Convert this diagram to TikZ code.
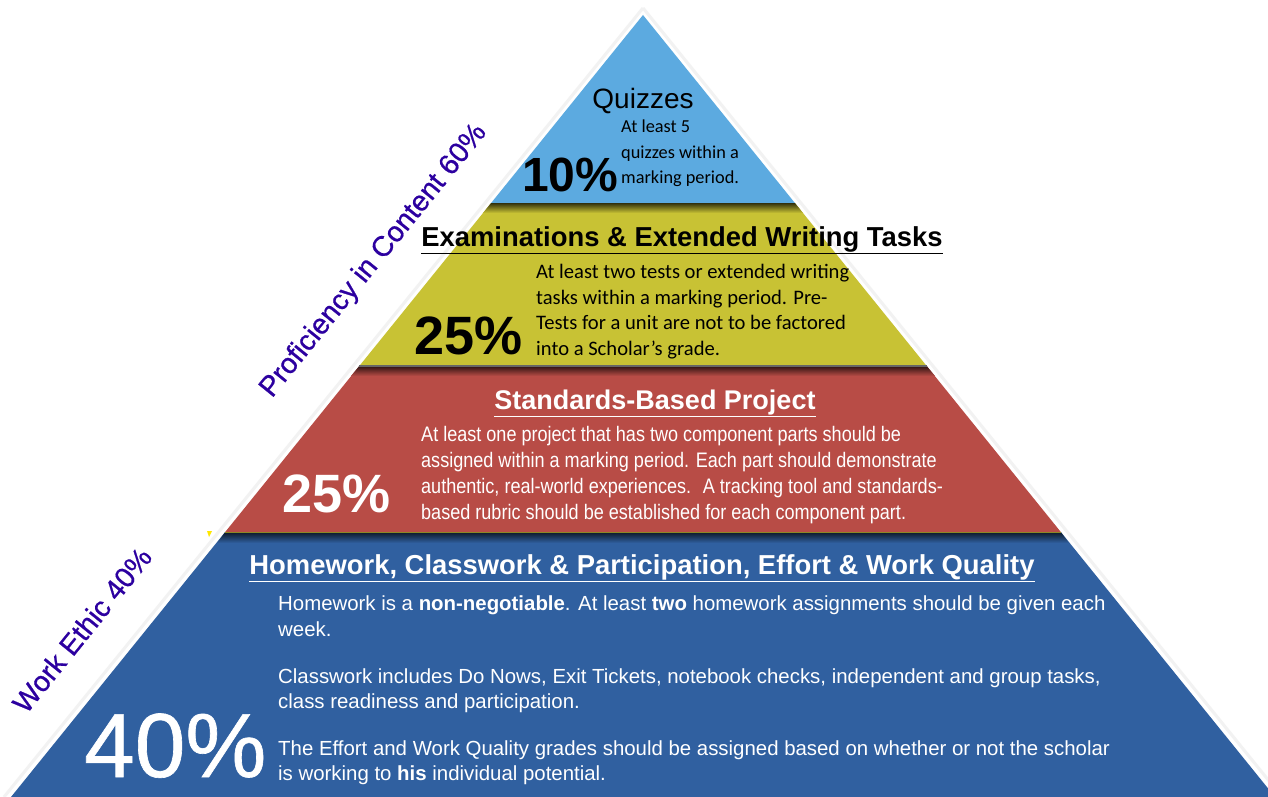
\documentclass[tikz,border=0pt]{standalone}
\usepackage{fontspec}
\setmainfont{Liberation Sans}
\newfontfamily\calfont{Carlito}
\newfontfamily\narrowfont[FakeStretch=0.86]{Liberation Sans}
\newfontfamily\medfont[FakeBold=0.7]{Liberation Sans}
\definecolor{topblue}{RGB}{92,170,224}
\definecolor{yel}{RGB}{200,194,52}
\definecolor{redb}{RGB}{184,76,70}
\definecolor{botblue}{RGB}{48,96,160}
\definecolor{vio}{RGB}{44,0,160}
\tikzset{
  head/.style={font=\bfseries\fontsize{#1}{#1}\selectfont, inner sep=0pt},
  pct/.style={font=\bfseries\fontsize{#1}{#1}\selectfont, inner sep=0pt},
  body/.style={align=left, inner sep=0pt},
  side/.style={text=vio, font=\medfont\fontsize{#1}{#1}\selectfont, rotate=51, inner sep=0pt},
}
\begin{document}
\begin{tikzpicture}[x=1pt,y=-1pt]
\useasboundingbox (0,0) rectangle (1268,797);
\fill[white] (0,0) rectangle (1268,797);
\begin{scope}
\clip (0,0) rectangle (1268,797);
% faint outline shadow
\draw[black!5, line width=3pt] (643,8) -- (4,797);
\draw[black!5, line width=3pt] (643,8) -- (1282,797);
% bands
\fill[topblue] (643,15) -- (794.9,203) -- (491.1,203) -- cycle;
\fill[yel] (491.1,203) -- (794.9,203) -- (926.7,366) -- (359.3,366) -- cycle;
\fill[redb] (359.3,366) -- (926.7,366) -- (1060.8,532) -- (225.2,532) -- cycle;
\fill[botblue] (225.2,532) -- (1060.8,532) -- (1275,797) -- (11,797) -- cycle;
% shadows at band tops
\shade[top color=black!75!yel, bottom color=yel] (491.1,203) -- (794.9,203) -- (803,213) -- (483,213) -- cycle;
\shade[top color=black!75!redb, bottom color=redb] (359.3,366) -- (926.7,366) -- (935,376) -- (351,376) -- cycle;
\shade[top color=black!75!botblue, bottom color=botblue] (225.2,532) -- (1060.8,532) -- (1069,543) -- (217,543) -- cycle;
\draw[black!60, line width=1.2pt] (359.3,366) -- (926.7,366);
\draw[yel!70!black, line width=1pt] (225.2,532) -- (1060.8,532);
\end{scope}
% small yellow mark
\fill[yellow!90!orange] (207,531) -- (212,531) -- (209,537) -- cycle;

% ---- top band ----
\node[font=\fontsize{28}{28}\selectfont, anchor=base, inner sep=0pt] (quiz) at (643,109) {Quizzes};
\node[body, font=\calfont\fontsize{18.3}{25.5}\selectfont, anchor=north west] (quizbody) at (621,120) {At least 5\\quizzes within a\\marking period.};
\node[pct=48, anchor=base west] (p10) at (522,191) {10\%};

% ---- yellow band ----
\node[head=27.4, anchor=base, text=black] (exam) at (682,246) {\underline{Examinations \& Extended Writing Tasks}};
\node[body, font=\calfont\fontsize{20.6}{25.6}\selectfont, anchor=north west] (exambody) at (536,264) {At least two tests or extended writing\\tasks within a marking period. Pre-\\Tests for a unit are not to be factored\\into a Scholar’s grade.};
\node[pct=54, anchor=base west] (p25a) at (414,354) {25\%};

% ---- red band ----
\node[head=27, anchor=base, text=white] (proj) at (655,409) {\underline{Standards-Based Project}};
\node[body, text=white, font=\narrowfont\fontsize{21}{25.9}\selectfont, anchor=north west] (projbody) at (421,426) {At least one project that has two component parts should be\\assigned within a marking period. Each part should demonstrate\\authentic, real-world experiences.~ A tracking tool and standards-\\based rubric should be established for each component part.};
\node[pct=54, anchor=base west, text=white] (p25b) at (282,512) {25\%};

% ---- bottom band ----
\node[head=27.4, anchor=base, text=white] (hw) at (642,574) {\underline{Homework, Classwork \& Participation, Effort \& Work Quality}};
\node[body, text=white, font=\fontsize{20.4}{25.2}\selectfont, anchor=north west] (hwbody) at (278,596) {Homework is a \textbf{non-negotiable}. At least \textbf{two} homework assignments should be given each\\week.\\[22pt]Classwork includes Do Nows, Exit Tickets, notebook checks, independent and group tasks,\\class readiness and participation.\\[22pt]The Effort and Work Quality grades should be assigned based on whether or not the scholar\\is working to \textbf{his} individual potential.};
\node[font=\medfont\fontsize{91}{91}\selectfont, anchor=base west, text=white, inner sep=0pt] (p40) at (84,777) {40\%};

% ---- side labels ----
\node[side=28.5] (prof) at (374,261) {Proficiency in Content 60\%};
\node[side=28.5] (work) at (82,630) {Work Ethic 40\%};
\end{tikzpicture}
\end{document}
